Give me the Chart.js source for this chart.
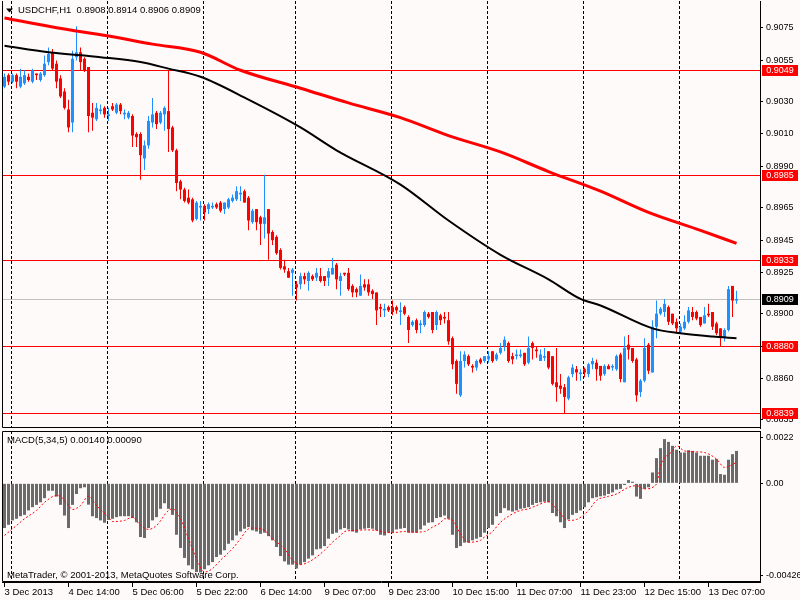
<!DOCTYPE html>
<html>
<head>
<meta charset="utf-8">
<script src="https://cdn.jsdelivr.net/npm/chart.js@4.4.1/dist/chart.umd.min.js"></script>
<style>
  html, body { margin: 0; padding: 0; background: #FFFAFA; }
  #wrap { position: relative; width: 800px; height: 600px; overflow: hidden; background: #FFFAFA; }
  #priceChart { position: absolute; left: 0; top: 0; }
  #macdChart { position: absolute; left: 0; top: 429px; }
</style>
</head>
<body>
<div id="wrap">
  <canvas id="priceChart" width="800" height="429"></canvas>
  <canvas id="macdChart" width="800" height="171"></canvas>
</div>
<script>
// USDCHF H1, 184 bars, 3 Dec 22:00 .. 13 Dec 14:00
const symbol = 'USDCHF,H1';

const opens = [
  0.9039,0.9046,0.9042,0.9046,0.9039,0.9041,0.9045,0.9042,0.9047,0.9043,
  0.9046,0.9054,0.9060,0.9053,0.9044,0.9036,0.9025,0.9017,0.9057,0.9060,
  0.9056,0.9051,0.9023,0.9019,0.9024,0.9026,0.9021,0.9027,0.9023,0.9028,
  0.9022,0.9020,0.9021,0.9010,0.9010,0.8995,0.9003,0.9017,0.9023,0.9017,
  0.9022,0.9024,0.9014,0.9000,0.8981,0.8976,0.8971,0.8970,0.8958,0.8965,
  0.8966,0.8964,0.8965,0.8967,0.8968,0.8964,0.8965,0.8969,0.8970,0.8973,
  0.8975,0.8971,0.8956,0.8964,0.8959,0.8955,0.8964,0.8950,0.8947,0.8939,
  0.8929,0.8926,0.8925,0.8918,0.8918,0.8923,0.8920,0.8923,0.8922,0.8923,
  0.8923,0.8922,0.8924,0.8930,0.8920,0.8925,0.8925,0.8917,0.8915,0.8911,
  0.8918,0.8918,0.8914,0.8913,0.8904,0.8902,0.8904,0.8904,0.8904,0.8901,
  0.8904,0.8898,0.8893,0.8896,0.8893,0.8893,0.8900,0.8901,0.8893,0.8899,
  0.8898,0.8896,0.8885,0.8871,0.8850,0.8871,0.8874,0.8868,0.8867,0.8872,
  0.8871,0.8872,0.8877,0.8872,0.8876,0.8880,0.8882,0.8874,0.8874,0.8874,
  0.8876,0.8870,0.8882,0.8878,0.8871,0.8873,0.8877,0.8874,0.8858,0.8856,
  0.8855,0.8848,0.8863,0.8866,0.8863,0.8866,0.8863,0.8869,0.8870,0.8868,
  0.8863,0.8868,0.8867,0.8866,0.8875,0.8858,0.8881,0.8879,0.8872,0.8852,
  0.8859,0.8881,0.8864,0.8892,0.8900,0.8901,0.8904,0.8900,0.8895,0.8889,
  0.8891,0.8895,0.8901,0.8901,0.8898,0.8894,0.8900,0.8901,0.8894,0.8891,
  0.8885,0.8890,0.8917,0.8908
];
const highs = [
  0.9047,0.9047,0.9047,0.9047,0.9050,0.9049,0.9047,0.9050,0.9047,0.9048,
  0.9058,0.9063,0.9062,0.9055,0.9046,0.9038,0.9031,0.9061,0.9076,0.9063,
  0.9057,0.9051,0.9029,0.9029,0.9028,0.9027,0.9026,0.9029,0.9029,0.9029,
  0.9025,0.9024,0.9022,0.9011,0.9011,0.9006,0.9021,0.9032,0.9024,0.9024,
  0.9027,0.9049,0.9015,0.9001,0.8982,0.8977,0.8976,0.8971,0.8969,0.8969,
  0.8967,0.8968,0.8968,0.8968,0.8969,0.8968,0.8971,0.8973,0.8978,0.8978,
  0.8976,0.8972,0.8964,0.8964,0.8960,0.8985,0.8964,0.8951,0.8948,0.8940,
  0.8933,0.8928,0.8928,0.8920,0.8925,0.8925,0.8926,0.8924,0.8928,0.8928,
  0.8923,0.8928,0.8934,0.8931,0.8925,0.8925,0.8928,0.8918,0.8916,0.8924,
  0.8921,0.8921,0.8915,0.8913,0.8906,0.8906,0.8905,0.8908,0.8905,0.8907,
  0.8905,0.8899,0.8896,0.8897,0.8896,0.8902,0.8901,0.8901,0.8902,0.8900,
  0.8901,0.8901,0.8886,0.8872,0.8877,0.8877,0.8875,0.8869,0.8872,0.8873,
  0.8874,0.8877,0.8877,0.8876,0.8882,0.8886,0.8883,0.8876,0.8878,0.8878,
  0.8876,0.8886,0.8883,0.8880,0.8878,0.8879,0.8877,0.8874,0.8879,0.8863,
  0.8857,0.8862,0.8869,0.8868,0.8866,0.8867,0.8870,0.8873,0.8872,0.8868,
  0.8869,0.8869,0.8869,0.8875,0.8876,0.8886,0.8887,0.8879,0.8873,0.8860,
  0.8885,0.8882,0.8896,0.8908,0.8904,0.8909,0.8905,0.8900,0.8897,0.8894,
  0.8899,0.8904,0.8904,0.8902,0.8898,0.8904,0.8906,0.8901,0.8895,0.8891,
  0.8891,0.8917,0.8917,0.8914
];
const lows = [
  0.9038,0.9040,0.9041,0.9038,0.9038,0.9040,0.9042,0.9041,0.9043,0.9042,
  0.9045,0.9052,0.9049,0.9038,0.9032,0.9025,0.9011,0.9011,0.9055,0.9049,
  0.9048,0.9011,0.9012,0.9018,0.9022,0.9020,0.9018,0.9024,0.9022,0.9022,
  0.9019,0.9019,0.9002,0.9002,0.8982,0.8988,0.9001,0.9014,0.9013,0.9016,
  0.9012,0.8999,0.8999,0.8975,0.8970,0.8968,0.8967,0.8956,0.8957,0.8957,
  0.8957,0.8961,0.8964,0.8964,0.8962,0.8961,0.8964,0.8968,0.8969,0.8969,
  0.8968,0.8951,0.8955,0.8951,0.8942,0.8946,0.8933,0.8942,0.8936,0.8927,
  0.8925,0.8922,0.8911,0.8908,0.8915,0.8918,0.8914,0.8920,0.8920,0.8919,
  0.8917,0.8917,0.8924,0.8915,0.8911,0.8923,0.8914,0.8910,0.8910,0.8911,
  0.8914,0.8911,0.8909,0.8893,0.8898,0.8898,0.8901,0.8899,0.8900,0.8893,
  0.8899,0.8882,0.8892,0.8888,0.8888,0.8892,0.8897,0.8888,0.8890,0.8893,
  0.8894,0.8881,0.8866,0.8851,0.8849,0.8867,0.8868,0.8864,0.8865,0.8869,
  0.8870,0.8870,0.8870,0.8871,0.8875,0.8877,0.8870,0.8869,0.8872,0.8873,
  0.8868,0.8869,0.8872,0.8873,0.8871,0.8871,0.8866,0.8856,0.8846,0.8851,
  0.8839,0.8847,0.8861,0.8859,0.8859,0.8861,0.8861,0.8866,0.8859,0.8859,
  0.8862,0.8866,0.8865,0.8865,0.8858,0.8858,0.8872,0.8870,0.8846,0.8849,
  0.8858,0.8863,0.8864,0.8885,0.8899,0.8898,0.8893,0.8893,0.8888,0.8888,
  0.8890,0.8894,0.8896,0.8896,0.8892,0.8894,0.8898,0.8890,0.8887,0.8880,
  0.8883,0.8889,0.8898,0.8906
];
const closes = [
  0.9045,0.9042,0.9046,0.9042,0.9045,0.9046,0.9043,0.9049,0.9046,0.9047,
  0.9053,0.9059,0.9050,0.9042,0.9033,0.9026,0.9014,0.9056,0.9060,0.9054,
  0.9049,0.9021,0.9020,0.9026,0.9025,0.9022,0.9022,0.9025,0.9028,0.9024,
  0.9023,0.9023,0.9009,0.9008,0.8997,0.9003,0.9018,0.9022,0.9016,0.9023,
  0.9026,0.9013,0.9000,0.8980,0.8976,0.8969,0.8968,0.8957,0.8968,0.8966,
  0.8962,0.8967,0.8966,0.8965,0.8963,0.8968,0.8970,0.8971,0.8975,0.8974,
  0.8968,0.8957,0.8963,0.8956,0.8955,0.8959,0.8949,0.8945,0.8937,0.8928,
  0.8927,0.8922,0.8927,0.8916,0.8923,0.8921,0.8925,0.8921,0.8925,0.8920,
  0.8920,0.8926,0.8928,0.8921,0.8923,0.8924,0.8915,0.8913,0.8913,0.8917,
  0.8916,0.8913,0.8912,0.8902,0.8903,0.8903,0.8902,0.8901,0.8902,0.8902,
  0.8900,0.8890,0.8895,0.8890,0.8894,0.8901,0.8898,0.8890,0.8901,0.8896,
  0.8897,0.8883,0.8869,0.8857,0.8871,0.8875,0.8869,0.8867,0.8871,0.8870,
  0.8874,0.8874,0.8871,0.8875,0.8879,0.8884,0.8871,0.8872,0.8875,0.8875,
  0.8869,0.8879,0.8879,0.8877,0.8875,0.8874,0.8867,0.8857,0.8855,0.8854,
  0.8849,0.8861,0.8867,0.8864,0.8864,0.8864,0.8869,0.8871,0.8866,0.8862,
  0.8868,0.8866,0.8868,0.8874,0.8860,0.8879,0.8878,0.8871,0.8850,0.8859,
  0.8879,0.8865,0.8892,0.8900,0.8903,0.8906,0.8895,0.8894,0.8891,0.8892,
  0.8895,0.8902,0.8898,0.8897,0.8893,0.8899,0.8899,0.8892,0.8888,0.8885,
  0.8890,0.8915,0.8908,0.8909
];

// moving averages, read at a few bars
const redMaBars = [0, 13, 26, 37, 49, 59, 74, 86, 99, 111, 124, 136, 149, 161, 174, 183];
const redMaVals = [0.9081, 0.9075, 0.9070, 0.9065, 0.9060, 0.9049, 0.9038, 0.9029, 0.9020, 0.9009, 0.8999, 0.8987, 0.8975, 0.8962, 0.8951, 0.8943];
const blackMaBars = [0, 11, 24, 34, 41, 49, 61, 74, 83, 99, 111, 124, 136, 144, 149, 162, 169, 177, 183];
const blackMaVals = [0.9064, 0.9060, 0.9057, 0.9054, 0.9050, 0.9045, 0.9031, 0.9014, 0.9000, 0.8979, 0.8957, 0.8936, 0.8921, 0.8909, 0.8905, 0.8891, 0.8888, 0.8886, 0.8885];

// horizontal lines
const levels = [0.9049, 0.8985, 0.8933, 0.8880, 0.8839];

// MACD(5,34,5) histogram
const macdHist = [
  -0.00193,-0.00179,-0.00160,-0.00153,-0.00142,-0.00136,-0.00117,-0.00103,-0.00093,-0.00082,
  -0.00064,-0.00032,-0.00032,-0.00057,-0.00093,-0.00139,-0.00193,-0.00093,-0.00046,-0.00021,
  -0.00017,-0.00092,-0.00142,-0.00150,-0.00160,-0.00170,-0.00158,-0.00153,-0.00146,-0.00142,
  -0.00142,-0.00142,-0.00150,-0.00168,-0.00232,-0.00236,-0.00193,-0.00160,-0.00146,-0.00110,
  -0.00086,-0.00110,-0.00136,-0.00222,-0.00279,-0.00322,-0.00354,-0.00371,-0.00383,-0.00385,
  -0.00371,-0.00354,-0.00340,-0.00318,-0.00308,-0.00289,-0.00261,-0.00246,-0.00225,-0.00208,
  -0.00196,-0.00189,-0.00203,-0.00208,-0.00218,-0.00213,-0.00228,-0.00246,-0.00275,-0.00314,
  -0.00337,-0.00351,-0.00351,-0.00368,-0.00351,-0.00340,-0.00325,-0.00311,-0.00285,-0.00282,
  -0.00271,-0.00239,-0.00218,-0.00213,-0.00199,-0.00193,-0.00199,-0.00208,-0.00213,-0.00199,
  -0.00196,-0.00193,-0.00196,-0.00203,-0.00222,-0.00225,-0.00213,-0.00213,-0.00199,-0.00196,
  -0.00193,-0.00213,-0.00213,-0.00213,-0.00199,-0.00182,-0.00170,-0.00168,-0.00150,-0.00146,
  -0.00139,-0.00153,-0.00222,-0.00279,-0.00271,-0.00256,-0.00256,-0.00246,-0.00239,-0.00232,
  -0.00213,-0.00193,-0.00179,-0.00142,-0.00128,-0.00107,-0.00117,-0.00122,-0.00117,-0.00110,
  -0.00107,-0.00103,-0.00093,-0.00085,-0.00082,-0.00079,-0.00082,-0.00128,-0.00142,-0.00168,
  -0.00193,-0.00156,-0.00136,-0.00128,-0.00117,-0.00103,-0.00082,-0.00064,-0.00060,-0.00056,
  -0.00053,-0.00046,-0.00039,-0.00027,-0.00024,-0.00007,0.00014,0.00007,-0.00057,-0.00067,
  -0.00024,-0.00017,0.00047,0.00109,0.00152,0.00191,0.00179,0.00162,0.00145,0.00133,
  0.00133,0.00143,0.00140,0.00133,0.00119,0.00119,0.00119,0.00102,0.00105,0.00040,
  0.00037,0.00102,0.00126,0.00140
];
// signal line, read at a few bars
const sigBars = [0,3,5,8,10,13,14,16,17,19,21,23,26,27,30,32,34,36,38,41,42,44,46,48,50,52,54,57,59,61,
  62,65,67,70,72,74,76,78,80,82,84,85,88,90,93,95,97,100,102,105,107,109,110,112,114,116,119,120,122,124,
  127,129,131,133,136,138,141,143,146,148,151,153,156,158,160,163,164,167,168,170,173,175,178,180,183];
const sigVals = [-0.00225,-0.00182,-0.00153,-0.00117,-0.00082,-0.00053,-0.00056,-0.00096,-0.00113,-0.00096,
  -0.00056,-0.00096,-0.00146,-0.00165,-0.00160,-0.00146,-0.00182,-0.00199,-0.00182,-0.00117,
  -0.00110,-0.00153,-0.00239,-0.00325,-0.00383,-0.00368,-0.00332,-0.00282,-0.00239,-0.00196,
  -0.00193,-0.00203,-0.00239,-0.00282,-0.00332,-0.00351,-0.00340,-0.00318,-0.00289,-0.00254,
  -0.00225,-0.00208,-0.00203,-0.00201,-0.00203,-0.00211,-0.00213,-0.00208,-0.00211,-0.00208,
  -0.00189,-0.00170,-0.00153,-0.00160,-0.00218,-0.00254,-0.00246,-0.00232,-0.00208,-0.00168,
  -0.00132,-0.00117,-0.00110,-0.00096,-0.00079,-0.00110,-0.00160,-0.00156,-0.00117,-0.00074,
  -0.00056,-0.00046,-0.00017,-0.00010,-0.00024,-0.00003,0.00076,0.00140,0.00162,0.00140,
  0.00136,0.00133,0.00105,0.00069,0.00090];

// axis ticks
const priceTicks = [0.9075, 0.9055, 0.9030, 0.9010, 0.8990, 0.8965, 0.8945, 0.8925, 0.8900, 0.8880, 0.8860, 0.8835];
const macdTickVals = [0.00197, 0, -0.00399];
const macdTickLabels = ['0.0022', '0.00', '-0.00426'];
const timeBars = [0, 16, 32, 48, 64, 80, 96, 112, 128, 144, 160, 176];
const timeLabels = ['3 Dec 2013', '4 Dec 14:00', '5 Dec 06:00', '5 Dec 22:00', '6 Dec 14:00', '9 Dec 07:00',
  '9 Dec 23:00', '10 Dec 15:00', '11 Dec 07:00', '11 Dec 23:00', '12 Dec 15:00', '13 Dec 07:00'];
// midnight separators
const dayBars = [2, 26, 50, 73, 97, 121, 145, 169];

const last = closes.length - 1;
const bullColor = '#1E90FF';
const bearColor = '#FF0000';
const fontFam = "'Liberation Sans', Arial, sans-serif";
const fontSize = 9.5;
const tickFont = { family: fontFam, size: 9 };

Chart.defaults.font.family = fontFam;
Chart.defaults.font.size = fontSize;

const xRange = { min: -0.625, max: 188.875 };

const candleColors = closes.map((c, i) => c >= opens[i] ? bullColor : bearColor);
const bodies = opens.map((o, i) => ({ x: i, y: [o, closes[i]] }));
const wicks = lows.map((l, i) => ({ x: i, y: [l, highs[i]] }));
const redMa = redMaBars.map((b, i) => ({ x: b, y: redMaVals[i] }));
const blackMa = blackMaBars.map((b, i) => ({ x: b, y: blackMaVals[i] }));
const histPts = macdHist.map((v, i) => ({ x: i, y: v }));
const sigPts = sigBars.map((b, i) => ({ x: b, y: sigVals[i] }));

// axes must not push the plot area in
function noPad(s) {
  s.paddingTop = 0;
  s.paddingBottom = 0;
  s.paddingLeft = 0;
  s.paddingRight = 0;
}

function dashedDays(ctx, a, x) {
  ctx.save();
  ctx.strokeStyle = '#000';
  ctx.lineWidth = 1;
  ctx.setLineDash([3, 2]);
  dayBars.forEach(b => {
    const px = Math.floor(x.getPixelForValue(b) - 1.5) + 0.5;
    ctx.beginPath();
    ctx.moveTo(px, a.top);
    ctx.lineTo(px, a.bottom);
    ctx.stroke();
  });
  ctx.restore();
}

function hline(ctx, a, py, color) {
  ctx.strokeStyle = color;
  ctx.lineWidth = 1;
  ctx.beginPath();
  ctx.moveTo(a.left, py);
  ctx.lineTo(a.right, py);
  ctx.stroke();
}

function priceBox(ctx, a, py, value, color) {
  ctx.fillStyle = color;
  ctx.fillRect(a.right + 2, Math.round(py) - 5, 36, 11);
  ctx.fillStyle = '#FFFFFF';
  ctx.textAlign = 'center';
  ctx.textBaseline = 'middle';
  ctx.fillText(value.toFixed(4), a.right + 20, Math.round(py) + 0.5);
}

const priceDecor = {
  id: 'priceDecor',
  beforeDatasetsDraw(chart) {
    const { ctx, chartArea: a, scales: { x, y } } = chart;
    dashedDays(ctx, a, x);
    ctx.save();
    hline(ctx, a, Math.round(y.getPixelForValue(closes[last])) + 0.5, '#C0C0C0');
    levels.forEach(v => hline(ctx, a, Math.round(y.getPixelForValue(v)) + 0.5, '#FF0000'));
    ctx.restore();
  },
  afterDraw(chart) {
    const { ctx, chartArea: a, scales: { y } } = chart;
    ctx.save();
    // frame
    ctx.strokeStyle = '#000';
    ctx.lineWidth = 1;
    ctx.beginPath();
    ctx.moveTo(a.left + 0.5, a.top);
    ctx.lineTo(a.left + 0.5, a.bottom - 0.5);
    ctx.lineTo(a.right, a.bottom - 0.5);
    ctx.stroke();
    // price labels on the right
    ctx.font = '9px ' + fontFam;
    levels.forEach(v => priceBox(ctx, a, y.getPixelForValue(v), v, '#FF0000'));
    priceBox(ctx, a, y.getPixelForValue(closes[last]), closes[last], '#000000');
    // header
    ctx.font = fontSize + 'px ' + fontFam;
    ctx.fillStyle = '#000';
    ctx.beginPath();
    ctx.moveTo(6, 8.5);
    ctx.lineTo(13, 8.5);
    ctx.lineTo(9.5, 12.5);
    ctx.closePath();
    ctx.fill();
    const ohlc = [opens, highs, lows, closes].map(s => s[last].toFixed(4)).join(' ');
    ctx.textAlign = 'left';
    ctx.textBaseline = 'middle';
    ctx.fillText(symbol + '  ' + ohlc, 18, 10.5);
    ctx.restore();
  }
};

const macdDecor = {
  id: 'macdDecor',
  beforeDatasetsDraw(chart) {
    const { ctx, chartArea: a, scales: { x } } = chart;
    dashedDays(ctx, a, x);
  },
  afterDraw(chart) {
    const { ctx, chartArea: a } = chart;
    ctx.save();
    ctx.strokeStyle = '#000';
    ctx.lineWidth = 1;
    ctx.beginPath();
    ctx.moveTo(a.right, a.top + 0.5);
    ctx.lineTo(a.left + 0.5, a.top + 0.5);
    ctx.lineTo(a.left + 0.5, a.bottom - 0.5);
    ctx.lineTo(a.right, a.bottom - 0.5);
    ctx.stroke();
    ctx.font = fontSize + 'px ' + fontFam;
    ctx.fillStyle = '#000';
    ctx.textAlign = 'left';
    ctx.textBaseline = 'middle';
    ctx.fillText('MACD(5,34,5) ' + macdHist[last].toFixed(5) + ' ' + sigVals[sigVals.length - 1].toFixed(5), 7, 11);
    ctx.fillText('MetaTrader, \u00A9 2001-2013, MetaQuotes Software Corp.', 7, 146.5);
    ctx.restore();
  }
};

// price pane
const priceChart = new Chart(document.getElementById('priceChart'), {
  type: 'bar',
  data: {
    datasets: [
      { type: 'line', data: redMa, borderColor: '#FF0000', borderWidth: 3, pointRadius: 0,
        cubicInterpolationMode: 'monotone', fill: false },
      { type: 'line', data: blackMa, borderColor: '#000000', borderWidth: 2, pointRadius: 0,
        cubicInterpolationMode: 'monotone', fill: false },
      { data: bodies, backgroundColor: candleColors, barThickness: 3, grouped: false,
        minBarLength: 1, inflateAmount: 0 },
      { data: wicks, backgroundColor: candleColors, barThickness: 1, grouped: false, inflateAmount: 0 }
    ]
  },
  options: {
    responsive: false,
    animation: false,
    layout: { padding: { left: 2, top: 1, right: 0, bottom: 1 } },
    plugins: { legend: { display: false }, tooltip: { enabled: false } },
    scales: {
      x: { type: 'linear', min: xRange.min, max: xRange.max, offset: false, display: false },
      y: {
        position: 'right', min: 0.8830, max: 0.90914,
        afterFit: s => { s.width = 40; noPad(s); },
        afterBuildTicks: s => { s.ticks = priceTicks.map(v => ({ value: v })); },
        ticks: { callback: v => v.toFixed(4), color: '#000', padding: 3, autoSkip: false, font: tickFont },
        grid: { drawOnChartArea: false, color: '#000', tickLength: 3 },
        border: { color: '#000' }
      }
    }
  },
  plugins: [priceDecor]
});

// MACD pane
const macdChart = new Chart(document.getElementById('macdChart'), {
  type: 'bar',
  data: {
    datasets: [
      { type: 'line', data: sigPts, borderColor: '#FF0000', borderWidth: 1, borderDash: [2, 2],
        pointRadius: 0, cubicInterpolationMode: 'monotone', fill: false },
      { data: histPts, backgroundColor: '#6A6A6A', barThickness: 3, grouped: false, inflateAmount: 0 }
    ]
  },
  options: {
    responsive: false,
    animation: false,
    layout: { padding: { left: 2, top: 2, right: 0, bottom: 0 } },
    plugins: { legend: { display: false }, tooltip: { enabled: false } },
    scales: {
      x: {
        type: 'linear', min: xRange.min, max: xRange.max, offset: false,
        afterFit: s => { s.height = 18; noPad(s); },
        afterBuildTicks: s => { s.ticks = timeBars.map(v => ({ value: v })); },
        ticks: { autoSkip: false, maxRotation: 0, align: 'start', padding: 0, color: '#000',
          callback: (v, i) => timeLabels[i] },
        grid: { drawOnChartArea: false, offset: false, color: '#000', tickLength: 5 },
        border: { color: '#000' }
      },
      y: {
        position: 'right', min: -0.00426, max: 0.00226,
        afterFit: s => { s.width = 40; noPad(s); },
        afterBuildTicks: s => { s.ticks = macdTickVals.map(v => ({ value: v })); },
        ticks: { callback: (v, i) => macdTickLabels[i], color: '#000', padding: 3, autoSkip: false, font: tickFont },
        grid: { drawOnChartArea: false, color: '#000', tickLength: 3 },
        border: { color: '#000' }
      }
    }
  },
  plugins: [macdDecor]
});
</script>
</body>
</html>
